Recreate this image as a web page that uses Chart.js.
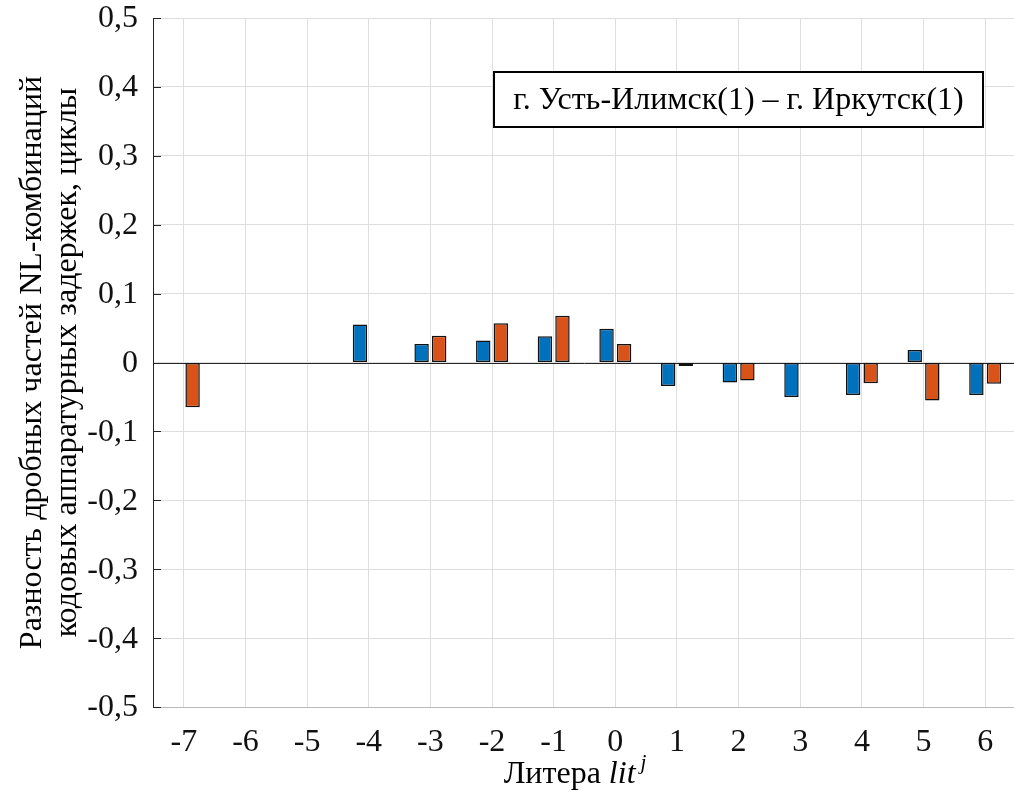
<!DOCTYPE html>
<html>
<head>
<meta charset="utf-8">
<script src="https://cdn.jsdelivr.net/npm/chart.js@4.4.1/dist/chart.umd.min.js"></script>
<style>
  html, body { margin: 0; padding: 0; background: #ffffff; overflow: hidden; }
  #wrap { position: absolute; left: 0; top: 0; width: 1020px; height: 792px; }
</style>
</head>
<body>
<div id="wrap"><canvas id="c" width="1020" height="792"></canvas></div>
<script>
// Литеры ГЛОНАСС
const letters = ['-7', '-6', '-5', '-4', '-3', '-2', '-1', '0', '1', '2', '3', '4', '5', '6'];
// Разность дробных частей NL-комбинаций, циклы (два набора)
const seriesBlue   = [null, null, null, 0.055, 0.027, 0.032, 0.038, 0.049, -0.034, -0.029, -0.050, -0.047, 0.018, -0.047];
const seriesOrange = [-0.065, null, null, null, 0.039, 0.057, 0.068, 0.027, -0.005, -0.026, null, -0.030, -0.055, -0.031];
// Подписи оси Y
const yTickValues = [-0.5, -0.4, -0.3, -0.2, -0.1, 0, 0.1, 0.2, 0.3, 0.4, 0.5];
const annotationText = 'г. Усть-Илимск(1) – г. Иркутск(1)';
const yTitleLines = ['Разность дробных частей NL-комбинаций', 'кодовых аппаратурных задержек, циклы'];

const SERIF = '"Liberation Serif", "Times New Roman", serif';
const FS = 32;

function fmtTick(v) {
  const r = Math.round(v * 10) / 10;
  if (r === 0) return '0';
  return r.toFixed(1).replace('.', ',');
}

const decorations = {
  id: 'decorations',
  beforeDatasetsDraw(chart) {
    const { ctx, chartArea: a, scales: { y } } = chart;
    // baseline at zero
    ctx.save();
    const y0 = Math.round(y.getPixelForValue(0)) + 0.5;
    ctx.strokeStyle = '#262626';
    ctx.lineWidth = 1;
    ctx.beginPath();
    ctx.moveTo(a.left, y0);
    ctx.lineTo(a.right, y0);
    ctx.stroke();
    ctx.restore();
  },
  afterDraw(chart) {
    const { ctx, chartArea: a, scales: { y } } = chart;
    ctx.save();
    // inward ticks and labels on the left axis
    ctx.strokeStyle = '#262626';
    ctx.lineWidth = 1;
    ctx.fillStyle = '#111111';
    ctx.font = FS + 'px ' + SERIF;
    ctx.textAlign = 'right';
    ctx.textBaseline = 'middle';
    yTickValues.forEach(v => {
      const yp = y.getPixelForValue(v);
      const py = Math.round(yp) + 0.5;
      ctx.beginPath();
      ctx.moveTo(a.left, py);
      ctx.lineTo(a.left + 8, py);
      ctx.stroke();
      ctx.fillText(fmtTick(v), a.left - 15, yp + 1);
    });

    // annotation box
    const bx = 494, by = 72, bw = 489, bh = 55;
    ctx.fillStyle = '#ffffff';
    ctx.fillRect(bx, by, bw, bh);
    ctx.strokeStyle = '#000000';
    ctx.lineWidth = 2;
    ctx.strokeRect(bx, by, bw, bh);
    ctx.fillStyle = '#000000';
    ctx.textAlign = 'center';
    ctx.textBaseline = 'middle';
    ctx.fillText(annotationText, bx + bw / 2, by + bh / 2 + 1);

    // y-axis title (two rotated lines)
    const cy = (a.top + a.bottom) / 2;
    [[33, yTitleLines[0]], [68, yTitleLines[1]]].forEach(([lx, txt]) => {
      ctx.save();
      ctx.translate(lx, cy);
      ctx.rotate(-Math.PI / 2);
      ctx.font = FS + 'px ' + SERIF;
      ctx.fillText(txt, 0, 0);
      ctx.restore();
    });

    // x-axis title: "Литера lit^j"
    const p1 = 'Литера ';
    const p2 = 'lit';
    const p3 = 'j';
    ctx.textAlign = 'left';
    ctx.textBaseline = 'alphabetic';
    ctx.font = FS + 'px ' + SERIF;
    const w1 = ctx.measureText(p1).width;
    ctx.font = 'italic ' + FS + 'px ' + SERIF;
    const w2 = ctx.measureText(p2).width;
    ctx.font = 'italic 21px ' + SERIF;
    const w3 = ctx.measureText(p3).width;
    const total = w1 + w2 + 5 + w3;
    let tx = 575 - total / 2;
    const base = 783;
    ctx.font = FS + 'px ' + SERIF;
    ctx.fillText(p1, tx, base);
    tx += w1;
    ctx.font = 'italic ' + FS + 'px ' + SERIF;
    ctx.fillText(p2, tx, base);
    tx += w2 + 5;
    ctx.font = 'italic 21px ' + SERIF;
    ctx.fillText(p3, tx, base - 14);
    ctx.restore();
  }
};

new Chart(document.getElementById('c'), {
  type: 'bar',
  data: {
    labels: letters,
    datasets: [
      {
        data: seriesBlue,
        backgroundColor: '#0072BD',
        borderColor: '#111111',
        borderWidth: 1.5,
        borderSkipped: false,
        categoryPercentage: 0.57,
        barPercentage: 0.82
      },
      {
        data: seriesOrange,
        backgroundColor: '#D95319',
        borderColor: '#111111',
        borderWidth: 1.5,
        borderSkipped: false,
        categoryPercentage: 0.57,
        barPercentage: 0.82
      }
    ]
  },
  options: {
    responsive: false,
    animation: false,
    events: [],
    layout: { padding: { top: 18, right: 4, left: 0, bottom: 0 } },
    plugins: { legend: { display: false }, tooltip: { enabled: false } },
    scales: {
      x: {
        offset: true,
        grid: {
          offset: false,
          color: '#dedede',
          lineWidth: 1,
          drawTicks: false
        },
        border: { display: true, color: '#b8b8b8', width: 1 },
        ticks: {
          color: '#111111',
          font: { family: SERIF, size: FS },
          padding: 16,
          maxRotation: 0,
          autoSkip: false
        },
        afterFit(scale) { scale.height = 85; }
      },
      y: {
        min: -0.5,
        max: 0.5,
        grid: { color: '#dedede', lineWidth: 1, drawTicks: false },
        border: { display: true, color: '#262626', width: 1 },
        ticks: {
          display: false,
          stepSize: 0.1
        },
        afterFit(scale) { scale.width = 153; }
      }
    }
  },
  plugins: [decorations]
});
</script>
</body>
</html>
